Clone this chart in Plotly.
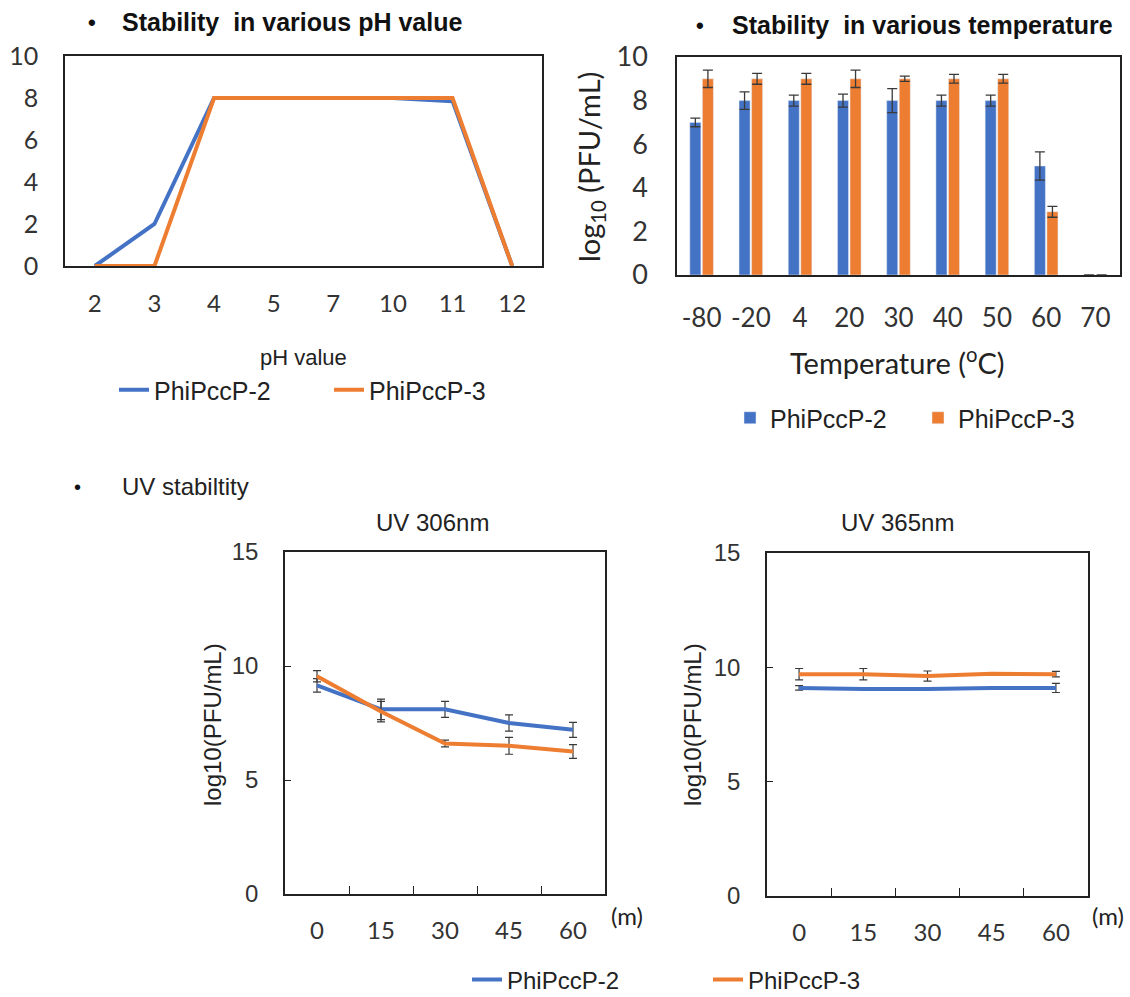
import plotly.graph_objects as go

# ---------------- data ----------------
ph_labels = ["2", "3", "4", "5", "7", "10", "11", "12"]
ph_p2 = [0, 2, 8, 8, 8, 8, 7.85, 0]
ph_p3 = [0, 0, 8, 8, 8, 8, 8, 0]

temp_labels = ["-80", "-20", "4", "20", "30", "40", "50", "60", "70"]
temp_p2 = [7.0, 8.0, 8.0, 8.0, 8.0, 8.0, 8.0, 5.0, 0]
temp_p2_err = [0.2, 0.4, 0.25, 0.3, 0.55, 0.25, 0.25, 0.65, None]
temp_p3 = [9.0, 9.0, 9.0, 9.0, 9.0, 9.0, 9.0, 2.9, 0]
temp_p3_err = [0.4, 0.25, 0.25, 0.4, 0.12, 0.2, 0.2, 0.25, None]

uv_time = ["0", "15", "30", "45", "60"]
uv306_p2 = [9.15, 8.1, 8.1, 7.5, 7.2]
uv306_p2_err = [0.3, 0.45, 0.35, 0.36, 0.33]
uv306_p3 = [9.55, 8.0, 6.6, 6.5, 6.25]
uv306_p3_err = [0.25, 0.45, 0.15, 0.37, 0.3]
uv365_p2 = [9.1, 9.05, 9.05, 9.1, 9.1]
uv365_p2_err = [0.1, 0, 0, 0.05, 0.2]
uv365_p3 = [9.7, 9.7, 9.62, 9.72, 9.7]
uv365_p3_err = [0.25, 0.25, 0.22, 0.05, 0.12]

# ---------------- style ----------------
W, H = 1130, 997
BLUE = "#4472C4"
ORANGE = "#ED7D31"
ERR = "#3a3a3a"
ARIAL = "Liberation Sans"
CAL = "Lato"


def fx(px):
    return px / W


def fy(py):
    return 1 - py / H


fig = go.Figure()

# pH chart
fig.add_trace(go.Scatter(x=ph_labels, y=ph_p2, mode="lines", name="PhiPccP-2",
                         line=dict(color=BLUE, width=4), xaxis="x", yaxis="y",
                         legend="legend"))
fig.add_trace(go.Scatter(x=ph_labels, y=ph_p3, mode="lines", name="PhiPccP-3",
                         line=dict(color=ORANGE, width=4), xaxis="x", yaxis="y",
                         legend="legend"))

# temperature chart
fig.add_trace(go.Bar(x=temp_labels, y=temp_p2, name="PhiPccP-2", marker_color=BLUE,
                     error_y=dict(type="data", array=temp_p2_err, color=ERR, thickness=1.3, width=5),
                     xaxis="x2", yaxis="y2", legend="legend2"))
fig.add_trace(go.Bar(x=temp_labels, y=temp_p3, name="PhiPccP-3", marker_color=ORANGE,
                     error_y=dict(type="data", array=temp_p3_err, color=ERR, thickness=1.3, width=5),
                     xaxis="x2", yaxis="y2", legend="legend2"))

# UV 306
fig.add_trace(go.Scatter(x=uv_time, y=uv306_p2, mode="lines", name="PhiPccP-2",
                         line=dict(color=BLUE, width=4),
                         error_y=dict(type="data", array=uv306_p2_err, color=ERR, thickness=1.2, width=4),
                         xaxis="x3", yaxis="y3", legend="legend3"))
fig.add_trace(go.Scatter(x=uv_time, y=uv306_p3, mode="lines", name="PhiPccP-3",
                         line=dict(color=ORANGE, width=4),
                         error_y=dict(type="data", array=uv306_p3_err, color=ERR, thickness=1.2, width=4),
                         xaxis="x3", yaxis="y3", legend="legend3"))
# UV 365
fig.add_trace(go.Scatter(x=uv_time, y=uv365_p2, mode="lines", name="PhiPccP-2",
                         line=dict(color=BLUE, width=4), showlegend=False,
                         error_y=dict(type="data", array=uv365_p2_err, color=ERR, thickness=1.2, width=4),
                         xaxis="x4", yaxis="y4"))
fig.add_trace(go.Scatter(x=uv_time, y=uv365_p3, mode="lines", name="PhiPccP-3",
                         line=dict(color=ORANGE, width=4), showlegend=False,
                         error_y=dict(type="data", array=uv365_p3_err, color=ERR, thickness=1.2, width=4),
                         xaxis="x4", yaxis="y4"))

box = dict(showline=True, mirror=True, linecolor="#222", linewidth=1.5,
           showgrid=False, zeroline=False, fixedrange=True)

fig.update_layout(
    xaxis=dict(domain=[fx(65), fx(542)], anchor="y", type="category",
               range=[-0.5, 7.5], ticks="", tickfont=dict(family=CAL, size=24, color="#333"),
               ticklabelstandoff=15, **box),
    yaxis=dict(domain=[fy(266), fy(56)], anchor="x", range=[0, 10], dtick=2, ticks="",
               tickfont=dict(family=CAL, size=25, color="#333"), ticklabelstandoff=20, **box),
    xaxis2=dict(domain=[fx(677), fx(1120)], anchor="y2", type="category",
                range=[-0.5, 8.5], ticks="", tickfont=dict(family=CAL, size=26, color="#333"),
                ticklabelstandoff=19, **box),
    yaxis2=dict(domain=[fy(275), fy(57)], anchor="x2", range=[0, 10], dtick=2, ticks="",
                tickfont=dict(family=CAL, size=27, color="#333"), ticklabelstandoff=22, **box),
    xaxis3=dict(domain=[fx(285), fx(605)], anchor="y3", type="category",
                range=[-0.5, 4.5], ticks="inside", ticklen=8, tickcolor="#222", tickson="boundaries",
                tickfont=dict(family=CAL, size=24, color="#333"), ticklabelstandoff=14, **box),
    yaxis3=dict(domain=[fy(894), fy(552)], anchor="x3", range=[0, 15], dtick=5,
                ticks="inside", ticklen=6, tickcolor="#222",
                tickfont=dict(family=ARIAL, size=24, color="#333"), ticklabelstandoff=20, **box),
    xaxis4=dict(domain=[fx(767), fx(1088)], anchor="y4", type="category",
                range=[-0.5, 4.5], ticks="inside", ticklen=8, tickcolor="#222", tickson="boundaries",
                tickfont=dict(family=CAL, size=24, color="#333"), ticklabelstandoff=14, **box),
    yaxis4=dict(domain=[fy(896), fy(553)], anchor="x4", range=[0, 15], dtick=5,
                ticks="inside", ticklen=6, tickcolor="#222",
                tickfont=dict(family=ARIAL, size=24, color="#333"), ticklabelstandoff=20, **box),
)

leg_common = dict(orientation="h", xanchor="left", yanchor="middle",
                  bgcolor="rgba(0,0,0,0)",
                  entrywidthmode="pixels", traceorder="normal")
fig.update_layout(
    legend=dict(x=fx(114), y=fy(390), entrywidth=170,
                font=dict(family=ARIAL, size=25, color="#222"), **leg_common),
    legend2=dict(x=fx(730), y=fy(418), entrywidth=143,
                 font=dict(family=ARIAL, size=25, color="#222"), **leg_common),
    legend3=dict(x=fx(467), y=fy(980), entrywidth=196,
                 font=dict(family=ARIAL, size=24, color="#222"), **leg_common),
)

ann = []


def text(x, y, s, size, family=ARIAL, bold=False, anchor="center", angle=0, color="#111"):
    if bold:
        s = "<b>" + s + "</b>"
    ann.append(dict(x=fx(x), y=fy(y), xref="paper", yref="paper", text=s, showarrow=False,
                    xanchor=anchor, yanchor="middle", textangle=angle,
                    font=dict(family=family, size=size, color=color)))


# titles
text(92, 22, "•", 22, bold=True)
text(120, 22, "Stability  in various pH value", 25, bold=True, anchor="left")
text(700, 25, "•", 22, bold=True)
text(730, 25, "Stability  in various temperature", 25, bold=True, anchor="left")
text(77, 487, "•", 20)
text(120, 487, "UV stabiltity", 24, anchor="left", color="#222")
text(433, 522, "UV 306nm", 24, color="#222")
text(897, 522, "UV 365nm", 24, color="#222")
# axis titles
text(303, 357, "pH value", 22, color="#222")
text(897, 361, "Temperature (<sup>o</sup>C)", 29, family=CAL, color="#222")
text(591, 167, "log<sub>10</sub> (PFU/mL)", 29, family=CAL, angle=-90, color="#222")
text(212, 725, "log10(PFU/mL)", 24, angle=-90, color="#222")
text(692, 725, "log10(PFU/mL)", 24, angle=-90, color="#222")
text(627, 915, "(m)", 24, family=CAL, color="#222")
text(1108, 915, "(m)", 24, family=CAL, color="#222")

fig.update_layout(
    annotations=ann,
    width=W, height=H,
    margin=dict(l=0, r=0, t=0, b=0, autoexpand=False),
    paper_bgcolor="white", plot_bgcolor="white",
    barmode="group", bargap=0.49, bargroupgap=0.12,
)

fig.write_html("out.html", config={"displayModeBar": False})
